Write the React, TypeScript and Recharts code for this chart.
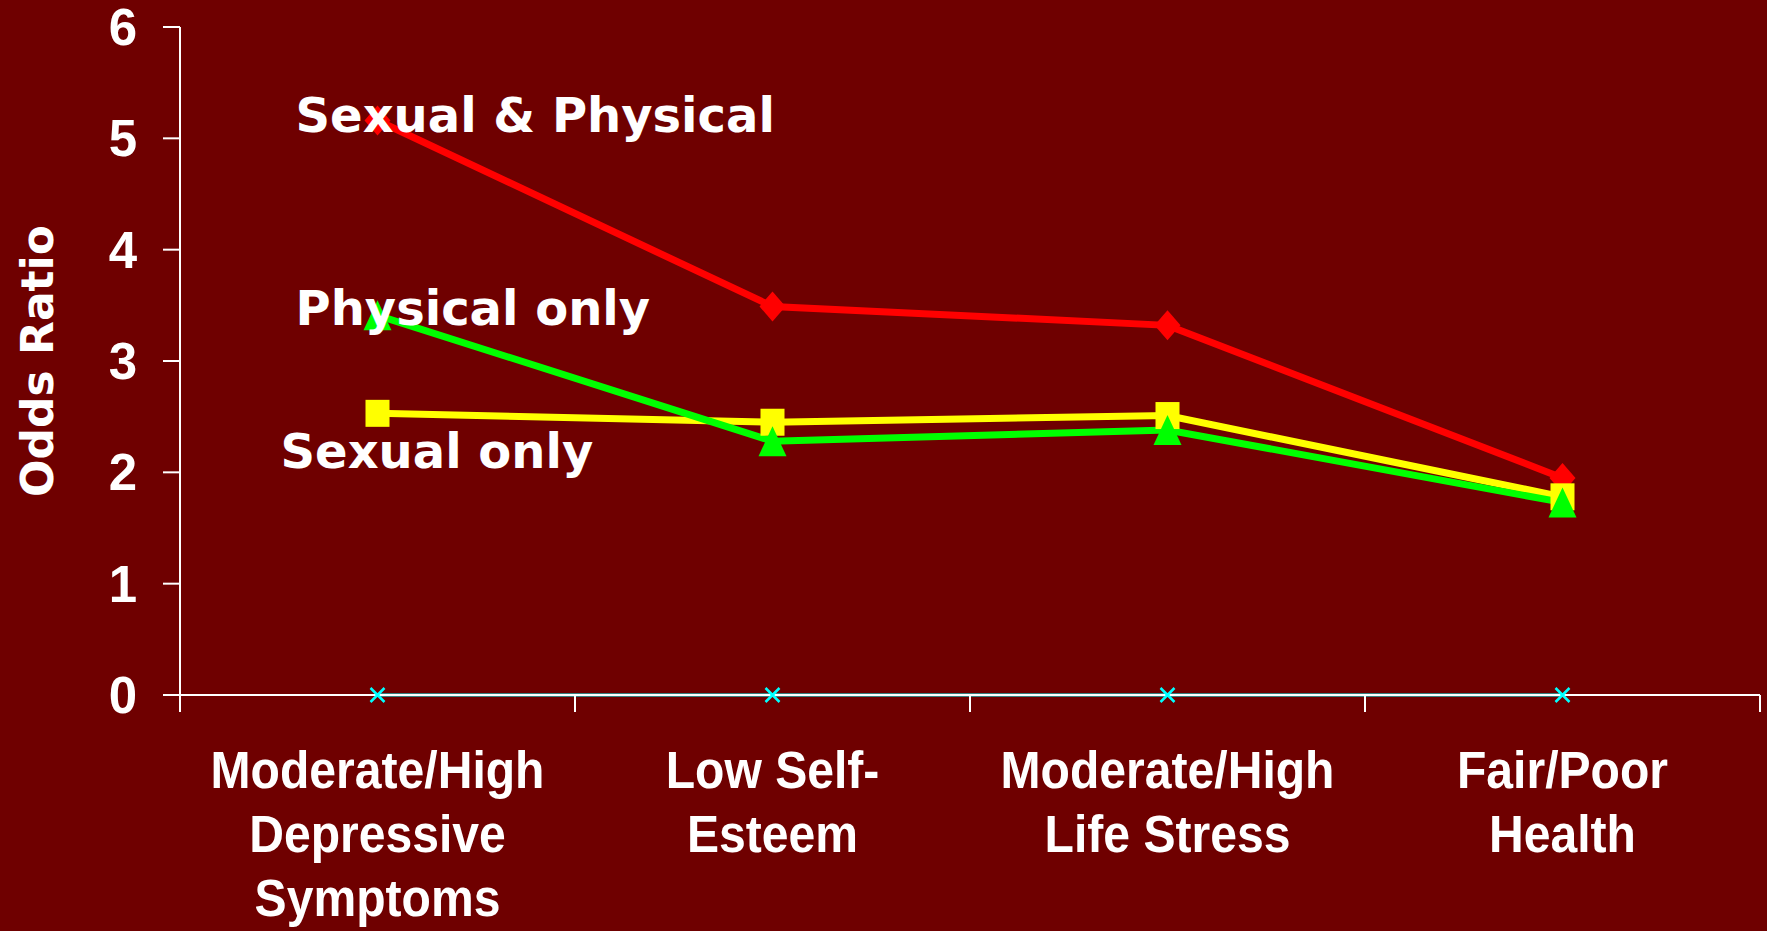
import { ComposedChart, Line, XAxis, YAxis, Label } from "recharts";

const categories = [
  "Moderate/High\nDepressive\nSymptoms",
  "Low Self-\nEsteem",
  "Moderate/High\nLife Stress",
  "Fair/Poor\nHealth",
];
const sexualPhysical = [5.16, 3.49, 3.32, 1.95];
const physicalOnly = [3.41, 2.28, 2.38, 1.73];
const sexualOnly = [2.53, 2.45, 2.51, 1.78];
const noAbuse = [0, 0, 0, 0];
const yTicks = [0, 1, 2, 3, 4, 5, 6];

const data = categories.map((cat, i) => ({
  cat,
  both: sexualPhysical[i],
  phys: physicalOnly[i],
  sex: sexualOnly[i],
  none: noAbuse[i],
}));

const BG = "#6F0000";
const LABEL_FONT = "'DejaVu Sans', Verdana, sans-serif";
const ARIAL = "'Liberation Sans', Arial, sans-serif";

const Diamond = ({ cx, cy }: any) => (
  <path d={`M${cx},${cy - 15}L${cx + 13},${cy}L${cx},${cy + 15}L${cx - 13},${cy}Z`} fill="#FF0000" />
);
const Square = ({ cx, cy }: any) => <rect x={cx - 12} y={cy - 13.5} width={24} height={27} fill="#FFFF00" />;
const Triangle = ({ cx, cy }: any) => (
  <path d={`M${cx},${cy - 15}L${cx + 14},${cy + 15}L${cx - 14},${cy + 15}Z`} fill="#00FF00" />
);
const Cross = ({ cx, cy }: any) => (
  <path d={`M${cx - 7},${cy - 7}L${cx + 7},${cy + 7}M${cx - 7},${cy + 7}L${cx + 7},${cy - 7}`} stroke="#00FFFF" strokeWidth={2.5} />
);

const seriesLabel = (text: string, dx: number, dy: number) => (p: any) =>
  p.index === 0 ? (
    <text x={p.x + dx} y={p.y + dy} fill="#fff" fontFamily={LABEL_FONT} fontWeight={700} fontSize={48} textAnchor="start">
      {text}
    </text>
  ) : (
    <g />
  );

// category label, plus tick marks at the band edges
const CategoryTick = ({ x, y, payload, width, visibleTicksCount }: any) => {
  const lines = String(payload.value).split("\n");
  const half = payload.offset || width / (visibleTicksCount || categories.length) / 2;
  const last = payload.index === categories.length - 1;
  return (
    <g>
      <line x1={x - half} x2={x - half} y1={y} y2={y + 17} stroke="#fff" strokeWidth={2} />
      {last && <line x1={x + half} x2={x + half} y1={y} y2={y + 17} stroke="#fff" strokeWidth={2} />}
      <g transform={`translate(${x} ${y}) scale(0.925 1)`}>
        <text x={0} y={0} textAnchor="middle" fill="#fff" fontFamily={ARIAL} fontWeight={700} fontSize={52}>
          {lines.map((l, i) => (
            <tspan key={i} x={0} dy={i === 0 ? 93 : 64}>
              {l}
            </tspan>
          ))}
        </text>
      </g>
    </g>
  );
};

export default function App() {
  return (
    <div style={{ position: "absolute", left: 0, top: 0, width: 1767, height: 931, background: BG, overflow: "hidden" }}>
      <ComposedChart width={1767} height={931} data={data} margin={{ top: 27, right: 7, left: 0, bottom: 0 }}>
        <XAxis
          dataKey="cat"
          scale="band"
          interval={0}
          height={236}
          tickSize={0}
          tickMargin={0}
          tickLine={false}
          axisLine={{ stroke: "#fff", strokeWidth: 2 }}
          tick={<CategoryTick />}
        />
        <YAxis
          domain={[0, 6]}
          ticks={yTicks}
          interval={0}
          width={180}
          tickSize={17}
          tickMargin={26}
          axisLine={{ stroke: "#fff", strokeWidth: 2 }}
          tickLine={{ stroke: "#fff", strokeWidth: 2 }}
          tick={{ fill: "#fff", fontSize: 51, fontFamily: ARIAL, fontWeight: 700 }}
        >
          <Label
            content={({ viewBox }: any) => {
              const cx = viewBox.x + 37;
              const cy = viewBox.y + viewBox.height / 2;
              return (
                <text
                  x={cx}
                  y={cy}
                  transform={`rotate(-90 ${cx} ${cy})`}
                  textAnchor="middle"
                  dominantBaseline="central"
                  fill="#fff"
                  fontFamily={LABEL_FONT}
                  fontWeight={700}
                  fontSize={44}
                >
                  Odds Ratio
                </text>
              );
            }}
          />
        </YAxis>
        <Line dataKey="none" stroke="#00FFFF" strokeWidth={3} dot={<Cross />} isAnimationActive={false} />
        <Line
          dataKey="both"
          stroke="#FF0000"
          strokeWidth={7}
          dot={<Diamond />}
          label={seriesLabel("Sexual & Physical", -82, 11)}
          isAnimationActive={false}
        />
        <Line
          dataKey="sex"
          stroke="#FFFF00"
          strokeWidth={7}
          dot={<Square />}
          label={seriesLabel("Sexual only", -97, 55)}
          isAnimationActive={false}
        />
        <Line
          dataKey="phys"
          stroke="#00FF00"
          strokeWidth={7}
          dot={<Triangle />}
          label={seriesLabel("Physical only", -82, 10)}
          isAnimationActive={false}
        />
      </ComposedChart>
    </div>
  );
}
